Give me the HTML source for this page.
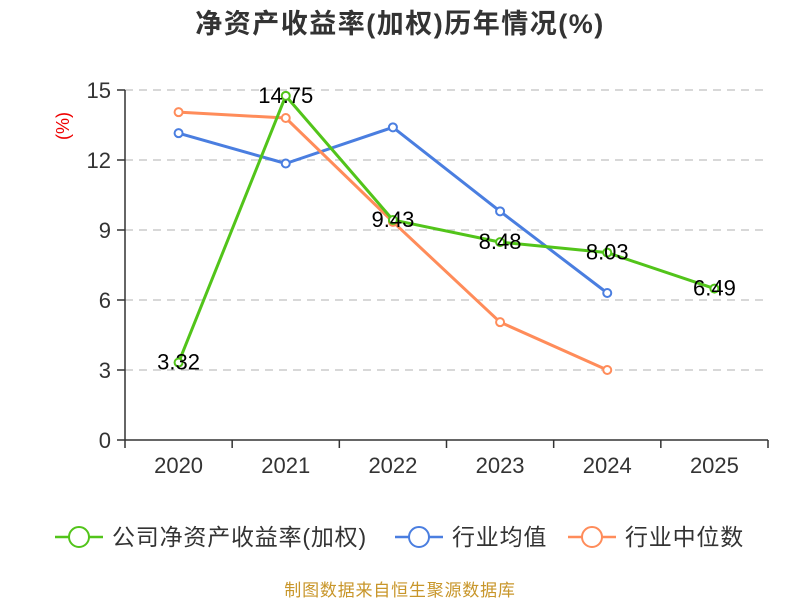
<!DOCTYPE html>
<html><head><meta charset="utf-8"><style>
body{margin:0;background:#fff;}
svg text{font-family:"Liberation Sans","Noto Sans CJK SC",sans-serif;}
</style></head><body>
<svg id="chart" width="800" height="600" xmlns="http://www.w3.org/2000/svg">
<text x="400" y="33" text-anchor="middle" font-size="27" font-weight="bold" fill="#333" letter-spacing="1.5">净资产收益率(加权)历年情况(%)</text>
<text transform="translate(69,126) rotate(-90)" text-anchor="middle" font-size="18" fill="#e00">(%)</text>
<g id="grid"></g><g id="axes"></g><g id="series"></g><g id="labels"></g>
<g>
<g><line x1="55" y1="537" x2="103" y2="537" stroke="#52c41a" stroke-width="2.5"/><circle cx="79" cy="537" r="10" fill="#fff" stroke="#52c41a" stroke-width="2"/><text x="112" y="545" font-size="23" fill="#333" letter-spacing="0.8">公司净资产收益率(加权)</text></g>
<g><line x1="395" y1="537" x2="443" y2="537" stroke="#4a7ee0" stroke-width="2.5"/><circle cx="419" cy="537" r="10" fill="#fff" stroke="#4a7ee0" stroke-width="2"/><text x="452" y="545" font-size="23" fill="#333" letter-spacing="0.8">行业均值</text></g>
<g><line x1="568" y1="537" x2="616" y2="537" stroke="#ff8c5a" stroke-width="2.5"/><circle cx="592" cy="537" r="10" fill="#fff" stroke="#ff8c5a" stroke-width="2"/><text x="625" y="545" font-size="23" fill="#333" letter-spacing="0.8">行业中位数</text></g>
</g>
<text x="400" y="596" text-anchor="middle" font-size="17" fill="#c8962a" letter-spacing="0.8">制图数据来自恒生聚源数据库</text>
</svg>
<script>
const categories=["2020","2021","2022","2023","2024","2025"];
const yTicks=[0,3,6,9,12,15];
const company=[3.32,14.75,9.43,8.48,8.03,6.49];
const industryAvg=[13.15,11.85,13.4,9.8,6.3,null];
const industryMedian=[14.05,13.8,9.35,5.05,3.0,null];
const NS="http://www.w3.org/2000/svg";
const x0=125,x1=768,y0=440,y1=90;
const bw=(x1-x0)/categories.length;
const xs=i=>x0+bw*(i+0.5);
const ys=v=>y0-(v/15)*(y0-y1);
function mk(tag,attrs,parent){const e=document.createElementNS(NS,tag);for(const k in attrs)e.setAttribute(k,attrs[k]);parent.appendChild(e);return e;}
const grid=document.getElementById('grid'),axes=document.getElementById('axes'),series=document.getElementById('series'),labels=document.getElementById('labels');
yTicks.forEach(t=>{const y=ys(t);
 if(t>0){const l=mk('line',{x1:x0,x2:x1,y1:y,y2:y,stroke:'#ccc','stroke-dasharray':'8,6','stroke-width':1.5},grid);
 
 }
 mk('line',{x1:x0-8,x2:x0,y1:y,y2:y,stroke:'#333','stroke-width':1.5},axes);
 const tx=mk('text',{x:x0-14,y:y+8,'text-anchor':'end','font-size':22,fill:'#333'},axes);tx.textContent=t;
 
 
});
mk('line',{x1:x0,x2:x0,y1:y1,y2:y0,stroke:'#333','stroke-width':1.5},axes);
mk('line',{x1:x0,x2:x1,y1:y0,y2:y0,stroke:'#333','stroke-width':1.5},axes);
for(let i=0;i<=categories.length;i++){const x=x0+bw*i;mk('line',{x1:x,x2:x,y1:y0,y2:y0+8,stroke:'#333','stroke-width':1.5},axes);}
categories.forEach((c,i)=>{const t=mk('text',{x:xs(i),y:y0+33,'text-anchor':'middle','font-size':22,fill:'#333'},axes);t.textContent=c;
 
 });
function draw(data,color,name){
 const pts=[];data.forEach((v,i)=>{if(v!==null)pts.push([xs(i),ys(v)]);});
 const p=mk('polyline',{points:pts.map(p=>p.join(',')).join(' '),fill:'none',stroke:color,'stroke-width':3,'stroke-linejoin':'round'},series);
 
 
 pts.forEach(pt=>{const c=mk('circle',{cx:pt[0],cy:pt[1],r:4,fill:'#fff',stroke:color,'stroke-width':2},series);
 
 });
}
draw(industryAvg,'#4a7ee0','industry-avg');
draw(industryMedian,'#ff8c5a','industry-median');
draw(company,'#52c41a','company');
company.forEach((v,i)=>{const t=mk('text',{x:xs(i),y:ys(v)+7,'text-anchor':'middle','font-size':22,fill:'#000'},labels);t.textContent=v.toFixed(2);
 
 });
</script>
</body></html>
